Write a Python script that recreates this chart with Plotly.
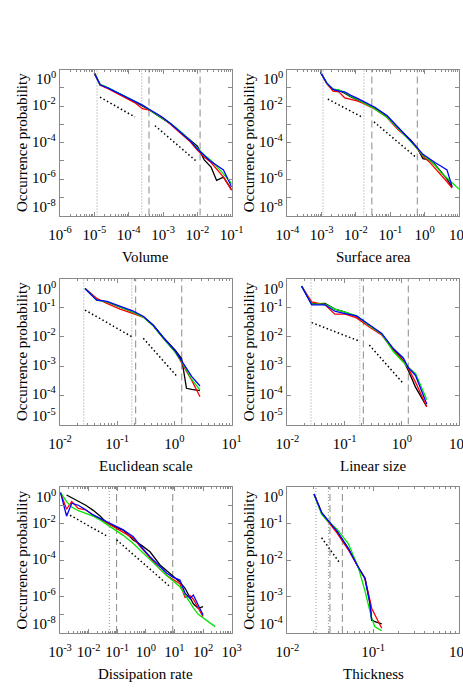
import plotly.graph_objects as go

# ---------------- data: log10 values ----------------
# Panel 1: Volume
vol_x = [-5.0, -4.83, -4.6, -4.4, -4.2, -4.0, -3.8, -3.6, -3.4, -3.2, -3.0, -2.8, -2.6, -2.4, -2.2, -2.0, -1.8, -1.6, -1.44, -1.24, -1.0]
vol_black = [-0.2, -0.84, -1.0, -1.18, -1.4, -1.6, -1.78, -2.0, -2.22, -2.45, -2.68, -2.95, -3.25, -3.58, -3.9, -4.2, -4.95, -5.35, -6.08, -5.9, -6.59]
vol_red = [-0.2, -0.86, -1.05, -1.25, -1.47, -1.68, -1.85, -2.15, -2.22, -2.42, -2.65, -2.98, -3.32, -3.65, -3.98, -4.42, -4.8, -5.1, -5.45, -5.9, -6.63]
vol_green = [-0.2, -0.82, -1.0, -1.18, -1.38, -1.58, -1.76, -1.96, -2.2, -2.43, -2.66, -2.93, -3.22, -3.58, -3.9, -4.32, -4.68, -4.98, -5.3, -5.72, -6.26]
vol_blue = [-0.2, -0.84, -1.02, -1.2, -1.38, -1.56, -1.75, -1.95, -2.18, -2.4, -2.64, -2.93, -3.25, -3.6, -3.92, -4.36, -4.7, -5.05, -5.25, -5.5, -6.44]
vol_vdot = [1.2e-5, 2.4e-4]
vol_vdash = [3.9e-4, 1.2e-2]
vol_ref1_x = [-4.835, -3.816]
vol_ref1_y = [-1.51, -2.61]
vol_ref2_x = [-3.234, -2.02]
vol_ref2_y = [-3.08, -5.04]

# Panel 2: Surface area
sa_x = [-3.03, -2.85, -2.67, -2.5, -2.33, -2.15, -1.97, -1.8, -1.62, -1.45, -1.27, -1.1, -0.92, -0.75, -0.57, -0.4, -0.22, -0.05, 0.13, 0.3, 0.48, 0.65, 0.8, 1.0]
sa_black = [-0.16, -0.76, -1.1, -1.15, -1.3, -1.5, -1.65, -1.8, -1.95, -2.12, -2.33, -2.55, -2.9, -3.25, -3.57, -3.88, -4.28, -4.88, -4.95, -5.2, -5.6, -6.0, -6.45, None]
sa_red = [-0.16, -0.78, -1.18, -1.22, -1.55, -1.62, -1.72, -1.85, -2.0, -2.18, -2.4, -2.62, -3.0, -3.35, -3.62, -3.92, -4.33, -4.75, -5.05, -5.4, -5.8, -6.15, -6.5, None]
sa_green = [-0.16, -0.74, -1.08, -1.12, -1.25, -1.48, -1.63, -1.8, -1.97, -2.16, -2.4, -2.62, -2.95, -3.28, -3.62, -3.92, -4.32, -4.7, -4.95, -5.25, -5.65, -5.95, -6.2, -6.55]
sa_blue = [-0.16, -0.75, -1.08, -1.18, -1.22, -1.42, -1.57, -1.72, -1.9, -2.07, -2.3, -2.52, -2.88, -3.22, -3.55, -3.88, -4.28, -4.65, -4.9, -5.1, -5.3, -5.5, -6.42, None]
sa_vdot = [1.1e-3, 1.7e-2]
sa_vdash = [2.9e-2, 0.61]
sa_ref1_x = [-2.82, -1.85]
sa_ref1_y = [-1.62, -2.58]
sa_ref2_x = [-1.475, -0.23]
sa_ref2_y = [-2.87, -4.85]

# Panel 3: Euclidean scale
eu_x = [-1.563, -1.36, -1.18, -0.95, -0.72, -0.54, -0.37, -0.195, 0.01, 0.126, 0.21, 0.3, 0.446]
eu_black = [-0.34, -0.72, -0.8, -0.97, -1.15, -1.32, -1.6, -2.02, -2.45, -2.75, -3.76, -3.8, -3.84]
eu_red = [-0.34, -0.68, -0.85, -1.05, -1.2, -1.33, -1.62, -2.05, -2.5, -2.88, -3.2, -3.48, -4.05]
eu_green = [-0.34, -0.74, -0.8, -0.98, -1.15, -1.33, -1.63, -2.05, -2.52, -2.85, -3.15, -3.45, -3.82]
eu_blue = [-0.34, -0.74, -0.78, -0.95, -1.12, -1.3, -1.6, -2.02, -2.48, -2.82, -3.1, -3.35, -3.68]
eu_vdot = [0.026, 0.18]
eu_vdash = [0.21, 1.34]
eu_ref1_x = [-1.563, -0.747]
eu_ref1_y = [-1.08, -1.99]
eu_ref2_x = [-0.544, 0.039]
eu_ref2_y = [-2.05, -3.34]

# Panel 4: Linear size
ls_x = [-1.75, -1.574, -1.34, -1.17, -0.99, -0.79, -0.555, -0.35, -0.148, 0.027, 0.114, 0.24, 0.436]
ls_black = [-0.26, -0.87, -0.85, -1.05, -1.15, -1.3, -1.62, -1.9, -2.42, -2.8, -3.15, -3.72, -4.39]
ls_red = [-0.26, -0.8, -0.9, -1.22, -1.22, -1.35, -1.68, -1.93, -2.47, -2.82, -3.08, -3.55, -4.39]
ls_green = [-0.26, -0.88, -0.88, -1.05, -1.15, -1.28, -1.63, -1.9, -2.5, -2.85, -3.05, -3.25, -4.14]
ls_blue = [-0.26, -0.9, -0.9, -1.12, -1.2, -1.28, -1.6, -1.88, -2.4, -2.72, -3.05, -3.32, -4.3]
ls_vdot = [0.026, 0.185]
ls_vdash = [0.213, 1.30]
ls_ref1_x = [-1.574, -0.76]
ls_ref1_y = [-1.51, -2.13]
ls_ref2_x = [-0.567, 0.016]
ls_ref2_y = [-2.28, -3.57]

# Panel 5: Dissipation rate
dr_x = [-2.98, -2.77, -2.59, -2.36, -2.1, -1.84, -1.6, -1.37, -1.08, -0.79, -0.44, -0.15, 0.145, 0.495, 0.73, 0.96, 1.19, 1.37, 1.54, 1.66, 1.83, 2.0, 2.42]
dr_black = [None, -0.44, -0.6, -0.78, -1.0, -1.28, -1.59, -1.95, -2.18, -2.36, -2.9, -3.2, -3.55, -4.27, -4.6, -4.92, -5.2, -5.55, -6.1, -6.4, -6.65, -6.56, None]
dr_red = [-0.31, -1.22, -0.8, -1.17, -1.26, -1.55, -1.75, -1.95, -2.2, -2.45, -2.8, -3.35, -3.9, -4.5, -4.85, -5.1, -5.3, -6.05, -5.95, -6.15, -6.6, -7.1, None]
dr_green = [-0.31, -0.8, -1.1, -1.3, -1.45, -1.6, -1.8, -2.05, -2.32, -2.65, -3.1, -3.55, -4.0, -4.5, -4.85, -5.15, -5.46, -5.9, -6.35, -6.62, -6.98, -7.17, -7.65]
dr_blue = [-0.31, -1.6, -0.89, -1.0, -1.25, -1.53, -1.72, -1.9, -2.15, -2.35, -2.72, -3.3, -3.82, -4.4, -4.73, -4.95, -5.1, -5.82, -6.1, -5.92, -6.47, -7.01, None]
dr_vdot = [0.053]
dr_vdash = [0.095, 8.7]
dr_ref1_x = [-2.77, -1.37]
dr_ref1_y = [-1.44, -2.68]
dr_ref2_x = [-1.02, 0.843]
dr_ref2_y = [-2.9, -5.46]

# Panel 6: Thickness
th_x = [-1.689, -1.6, -1.522, -1.424, -1.29, -1.173, -1.095, -1.037, -1.017, -0.98, -0.9]
th_black = [-0.19, -0.7, -0.93, -1.2, -1.68, -2.2, -2.5, -3.19, -3.64, -3.69, -3.75]
th_red = [-0.19, -0.72, -0.96, -1.25, -1.72, -2.22, -2.52, -3.1, -3.32, -3.5, -3.87]
th_green = [-0.19, -0.75, -0.95, -1.15, -1.55, -2.2, -2.85, -3.4, -3.6, -3.83, -3.94]
th_blue = [-0.19, -0.7, -0.93, -1.2, -1.68, -2.2, -2.5, -3.19, -3.67, None, None]
th_vdot = [0.0216, 0.0301]
th_vdash = [0.0314, 0.0438]
th_ref1_x = [-1.6, -1.386]
th_ref1_y = [-1.39, -2.09]

# axis labels
x_titles = ["Volume", "Surface area", "Euclidean scale", "Linear size", "Dissipation rate", "Thickness"]
y_title = "Occurrence probability"

# ---------------- helpers ----------------
def p10(arr):
    return [None if v is None else 10 ** v for v in arr]

W, H = 463, 696
COLS = [(60.0, 231.7), (287.3, 459.0)]
ROWS = [(69.5, 215.5), (278.5, 424.5), (487.0, 633.0)]
SERIES_COLORS = ["#000000", "#ff0000", "#00e600", "#0000ff"]
FRAME = "#8a8a8a"
FONT = "Liberation Serif, Times New Roman, serif"
TICK_SIZE = 15

panels = [
    dict(x=vol_x, s=[vol_black, vol_red, vol_green, vol_blue], vdot=vol_vdot, vdash=vol_vdash,
         refs=[(vol_ref1_x, vol_ref1_y), (vol_ref2_x, vol_ref2_y)], xr=(-6, -1), yr=(-8, 0), ystep=2),
    dict(x=sa_x, s=[sa_black, sa_red, sa_green, sa_blue], vdot=sa_vdot, vdash=sa_vdash,
         refs=[(sa_ref1_x, sa_ref1_y), (sa_ref2_x, sa_ref2_y)], xr=(-4, 1), yr=(-8, 0), ystep=2),
    dict(x=eu_x, s=[eu_black, eu_red, eu_green, eu_blue], vdot=eu_vdot, vdash=eu_vdash,
         refs=[(eu_ref1_x, eu_ref1_y), (eu_ref2_x, eu_ref2_y)], xr=(-2, 1), yr=(-5, 0), ystep=1),
    dict(x=ls_x, s=[ls_black, ls_red, ls_green, ls_blue], vdot=ls_vdot, vdash=ls_vdash,
         refs=[(ls_ref1_x, ls_ref1_y), (ls_ref2_x, ls_ref2_y)], xr=(-2, 1), yr=(-5, 0), ystep=1),
    dict(x=dr_x, s=[dr_black, dr_red, dr_green, dr_blue], vdot=dr_vdot, vdash=dr_vdash,
         refs=[(dr_ref1_x, dr_ref1_y), (dr_ref2_x, dr_ref2_y)], xr=(-3, 3), yr=(-8, 0), ystep=2),
    dict(x=th_x, s=[th_black, th_red, th_green, th_blue], vdot=th_vdot, vdash=th_vdash,
         refs=[(th_ref1_x, th_ref1_y)], xr=(-2, 0), yr=(-4, 0), ystep=1),
]

fig = go.Figure()
annotations = []
layout = {}

def sup(e):
    return "10<sup>%d</sup>" % e

for i, p in enumerate(panels):
    n = i + 1
    xa = "x" if n == 1 else "x%d" % n
    ya = "y" if n == 1 else "y%d" % n
    ymin, ymax = p["yr"]
    # vertical markers
    for v in p["vdot"]:
        fig.add_trace(go.Scatter(x=[v, v], y=[10 ** ymin, 10 ** ymax], mode="lines",
                                 line=dict(color="#9a9a9a", width=1, dash="1px,2px"),
                                 xaxis=xa, yaxis=ya, showlegend=False, hoverinfo="skip"))
    for v in p["vdash"]:
        fig.add_trace(go.Scatter(x=[v, v], y=[10 ** ymin, 10 ** ymax], mode="lines",
                                 line=dict(color="#8a8a8a", width=1, dash="7px,4px"),
                                 xaxis=xa, yaxis=ya, showlegend=False, hoverinfo="skip"))
    # reference slopes
    for rx, ry in p["refs"]:
        fig.add_trace(go.Scatter(x=p10(rx), y=p10(ry), mode="lines",
                                 line=dict(color="#000000", width=1.5, dash="1.5px,2.5px"),
                                 xaxis=xa, yaxis=ya, showlegend=False, hoverinfo="skip"))
    # data series
    for col, ys in zip(SERIES_COLORS, p["s"]):
        fig.add_trace(go.Scatter(x=p10(p["x"]), y=p10(ys), mode="lines",
                                 line=dict(color=col, width=1.3),
                                 xaxis=xa, yaxis=ya, showlegend=False, connectgaps=False))

    c = i % 2
    r = i // 2
    x0, x1 = COLS[c]
    yt, yb = ROWS[r]
    xmin, xmax = p["xr"]
    xt = list(range(xmin, xmax + 1))
    minor_x = [k * 10 ** e for e in range(xmin, xmax) for k in range(2, 10)]
    layout["xaxis" if n == 1 else "xaxis%d" % n] = dict(
        type="log", range=[xmin, xmax], domain=[x0 / W, x1 / W], anchor=ya, automargin=False,
        tickmode="array", tickvals=[10 ** e for e in xt], ticktext=[sup(e) for e in xt],
        ticklabeloverflow="allow", ticklabelstandoff=5,
        ticks="inside", ticklen=4, tickcolor=FRAME, showline=True, linecolor=FRAME, linewidth=1,
        mirror="ticks", showgrid=False, zeroline=False,
        minor=dict(tickmode="array", tickvals=minor_x, ticks="inside", ticklen=2,
                   tickcolor=FRAME, showgrid=False),
        tickfont=dict(family=FONT, size=TICK_SIZE, color="#000"),
    )
    yt_vals = list(range(ymin, ymax + 1))
    layout["yaxis" if n == 1 else "yaxis%d" % n] = dict(
        type="log", range=[ymin, ymax], domain=[1 - yb / H, 1 - yt / H], anchor=xa, automargin=False,
        tickmode="array", tickvals=[10 ** e for e in yt_vals], showticklabels=False,
        ticks="inside", ticklen=4, tickcolor=FRAME, showline=True, linecolor=FRAME, linewidth=1,
        mirror="ticks", showgrid=False, zeroline=False,
    )
    # y tick labels (extreme labels kept inside the frame as in the original)
    for e in range(ymin, ymax + 1, p["ystep"]):
        if e == ymax:
            anc, sh = "top", 2
        elif e == ymin:
            anc, sh = "bottom", -1
        else:
            anc, sh = "middle", 2
        annotations.append(dict(text=sup(e), xref=xa + " domain", x=0, xanchor="right", xshift=-2,
                                yref=ya, y=e, yanchor=anc, yshift=sh, showarrow=False,
                                font=dict(family=FONT, size=TICK_SIZE, color="#000")))
    # axis titles
    annotations.append(dict(text=x_titles[i], xref=xa + " domain", x=0.5, xanchor="center",
                            yref=ya + " domain", y=0, yanchor="top", yshift=-31, showarrow=False,
                            font=dict(family=FONT, size=15, color="#000")))
    annotations.append(dict(text=y_title, xref=xa + " domain", x=0, xanchor="center", xshift=-38.5,
                            yref=ya + " domain", y=0.5, yanchor="middle", textangle=-90, showarrow=False,
                            font=dict(family=FONT, size=15, color="#000")))

fig.update_layout(
    template="none",
    width=W, height=H, margin=dict(l=0, r=0, t=0, b=0, autoexpand=False),
    paper_bgcolor="white", plot_bgcolor="white", showlegend=False,
    annotations=annotations, font=dict(family=FONT, color="#000"),
    **layout,
)
fig.write_html("out.html", config={"displayModeBar": False, "staticPlot": True},
               post_script="document.body.style.margin='0';document.body.style.padding='0';"
                           "document.documentElement.style.overflow='hidden';")
